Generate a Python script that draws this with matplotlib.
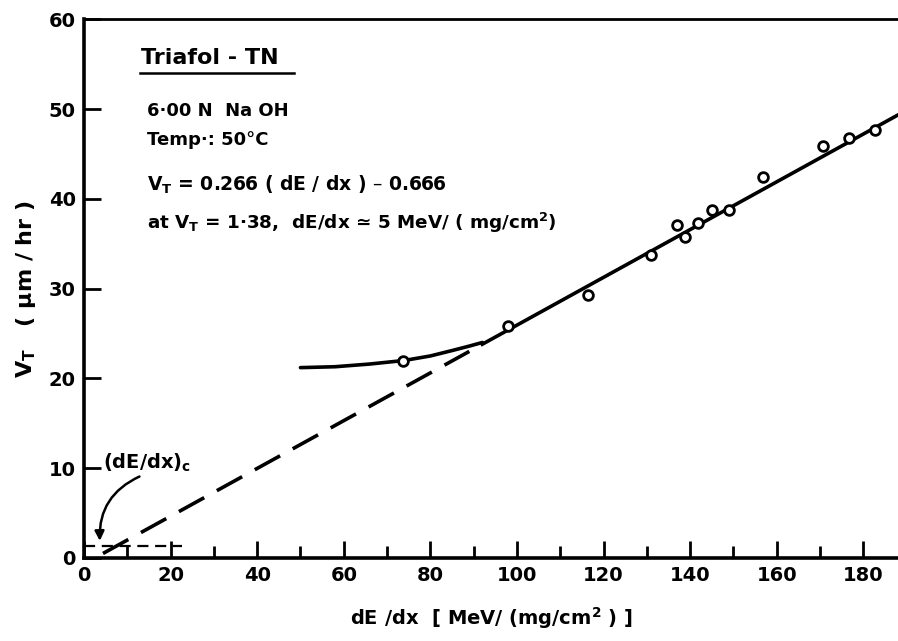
import matplotlib.pyplot as plt
from matplotlib.ticker import MultipleLocator

# measured track etch rates
dedx = [73.7, 97.9, 116.3, 131.0, 137.0, 138.9, 141.8, 145.0, 148.9, 156.9, 170.7, 176.7, 182.8]
vt = [21.9, 25.8, 29.3, 33.7, 37.1, 35.7, 37.3, 38.8, 38.8, 42.4, 45.9, 46.8, 47.7]

# low-dE/dx bend of the solid curve
curve_x = [50, 58, 66, 74, 80, 85, 89, 92]
curve_y = [21.2, 21.3, 21.6, 22.0, 22.5, 23.1, 23.6, 24.0]

# linear fit V_T = 0.266 (dE/dx) - 0.666
slope, intercept = 0.266, -0.666
fit_x = [92, 190]
dash_x = [4.4, 89]
crit_x = [0, 22.6]
crit_v = 1.38

plt.rcParams["font.family"] = ["DejaVu Sans"]
plt.rcParams["font.weight"] = "bold"

fig = plt.figure(figsize=(8.98, 6.41), dpi=100)
ax = fig.add_axes([0.0935, 0.1295, 0.9065, 0.8405])

ax.plot(curve_x, curve_y, "-k", lw=2.6, solid_capstyle="round")
ax.plot(fit_x, [slope * x + intercept for x in fit_x], "-k", lw=2.6)
ax.plot(dash_x, [slope * x + intercept for x in dash_x], color="k", lw=2.6,
        dashes=(8, 4))
ax.plot(crit_x, [crit_v, crit_v], color="k", lw=1.6, dashes=(5, 3))
ax.plot(dedx, vt, "o", ms=7, mfc="white", mec="k", mew=2.0, zorder=5)

ax.set_xlim(0, 188)
ax.set_ylim(0, 60)
ax.xaxis.set_major_locator(MultipleLocator(20))
ax.xaxis.set_minor_locator(MultipleLocator(10))
ax.yaxis.set_major_locator(MultipleLocator(10))
ax.tick_params(axis="both", which="major", direction="in", length=12, width=2,
               labelsize=14, pad=6)
ax.tick_params(axis="x", which="minor", direction="in", length=9, width=2)
ax.spines["right"].set_visible(False)
for s in ["left", "bottom"]:
    ax.spines[s].set_linewidth(2.6)
ax.spines["top"].set_linewidth(2.0)

ax.set_xlabel(r"dE /dx  [ MeV/ (mg/cm$^{\mathbf{2}}$ ) ]", fontsize=14,
              fontweight="bold", labelpad=14)
ax.set_ylabel(r"V$_{\mathbf{T}}$   ( $\mathbf{\mu}$m / hr )", fontsize=16,
              fontweight="bold", labelpad=8)

tx = 14.6
ax.text(13.2, 55.7, "Triafol - TN", fontsize=16, va="center", ha="left")
ax.plot([12.9, 48.5], [54.0, 54.0], "-k", lw=1.8)
ax.text(tx, 49.8, "6·00 N  Na OH", fontsize=13, va="center", ha="left")
ax.text(tx, 46.5, "Temp·: 50°C", fontsize=13, va="center", ha="left")
ax.text(tx, 41.5, r"V$_{\mathbf{T}}$ = 0.266 ( dE / dx ) – 0.666",
        fontsize=13.5, va="center", ha="left")
ax.text(tx, 37.3, r"at V$_{\mathbf{T}}$ = 1·38,  dE/dx ≃ 5 MeV/ ( mg/cm$^{\mathbf{2}}$)",
        fontsize=13.2, va="center", ha="left")

ax.text(4.5, 10.6, r"(dE/dx)$_{\mathbf{c}}$", fontsize=14, va="center", ha="left")
ax.annotate("", xy=(3.7, 1.6), xytext=(13.4, 9.2),
            arrowprops=dict(arrowstyle="-|>", color="k", lw=1.8,
                            mutation_scale=14,
                            connectionstyle="arc3,rad=0.35"))

fig.savefig("out.png", dpi=100)
